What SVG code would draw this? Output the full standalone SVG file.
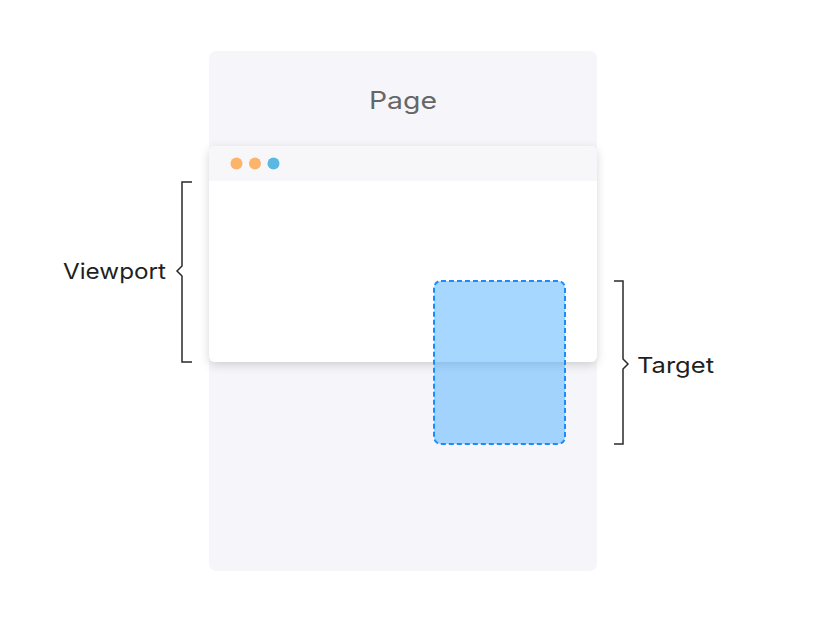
<svg xmlns="http://www.w3.org/2000/svg" width="825" height="621" viewBox="0 0 825 621">
  <style>
    .label { font-family: Inter, "Noto Sans", "Liberation Sans", sans-serif; fill: #1f1f1f; }
    .brace { fill: none; stroke: #2a2a2a; stroke-width: 1.5; }
  </style>
  <defs>
    <filter id="winShadow" x="-10%" y="-20%" width="120%" height="150%">
      <feDropShadow dx="0" dy="3" stdDeviation="5" flood-color="#000" flood-opacity="0.16"/>
    </filter>
  </defs>
  <rect width="825" height="621" fill="#ffffff"/>

  <!-- page -->
  <g id="page">
    <rect x="209" y="51" width="388" height="520" rx="7" fill="#f6f6fa"/>
    <text class="label" x="403" y="109" text-anchor="middle" font-size="24" textLength="68" lengthAdjust="spacingAndGlyphs" style="fill:#666666">Page</text>
  </g>

  <!-- browser window -->
  <g id="viewport-window">
    <rect x="209" y="146" width="388" height="216" rx="6" fill="#ffffff" filter="url(#winShadow)"/>
    <path d="M209 181 V152 a6 6 0 0 1 6 -6 H591 a6 6 0 0 1 6 6 V181 Z" fill="#f7f7fa"/>
    <circle cx="236.5" cy="163.5" r="6" fill="#fcb36b"/>
    <circle cx="255" cy="163.5" r="6" fill="#fcb36b"/>
    <circle cx="273.5" cy="163.5" r="6" fill="#5ab8e2"/>
  </g>

  <!-- target element -->
  <g id="target">
    <rect x="434" y="281" width="131" height="163" rx="7" fill="#3aa9ff" fill-opacity="0.45" stroke="#1a8cff" stroke-width="2" stroke-dasharray="5 3"/>
  </g>

  <!-- brackets -->
  <g id="connectors">
    <path class="brace" d="M192 182 H182 V266 L177 271 L182 276 V362 H192"/>
    <path class="brace" d="M614 281 H623 V359 L628 364 L623 369 V444 H614"/>
  </g>
  <g id="viewport-label">
    <text class="label" x="63" y="279" font-size="22" textLength="103" lengthAdjust="spacingAndGlyphs">Viewport</text>
  </g>
  <g id="target-label">
    <text class="label" x="637" y="373" font-size="22" textLength="77" lengthAdjust="spacingAndGlyphs">Target</text>
  </g>
</svg>
